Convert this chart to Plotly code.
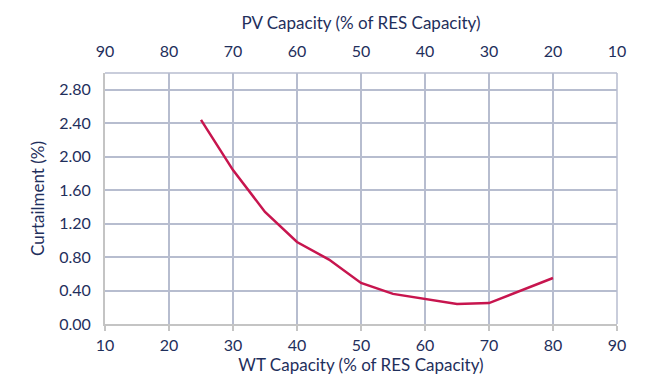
import plotly.graph_objects as go

wt_capacity = [25, 30, 35, 40, 45, 50, 55, 60, 65, 70, 75, 80]
curtailment = [2.44, 1.84, 1.34, 0.98, 0.77, 0.49, 0.36, 0.30, 0.24, 0.25, 0.40, 0.55]
pv_capacity = [100 - v for v in wt_capacity]
y_ticks = [0.0, 0.4, 0.8, 1.2, 1.6, 2.0, 2.4, 2.8]
x_ticks = [10, 20, 30, 40, 50, 60, 70, 80, 90]

navy = "#1F2F5C"
grid = "#B7BDCF"
axis_grey = "#C4C4C4"
line_col = "#C7154E"
font_fam = "Lato, 'Open Sans', sans-serif"

fig = go.Figure()
fig.add_trace(go.Scatter(x=wt_capacity, y=curtailment, mode="lines",
                         line=dict(color=line_col, width=2.5), xaxis="x", yaxis="y",
                         showlegend=False))
fig.add_trace(go.Scatter(x=pv_capacity, y=curtailment, mode="lines",
                         line=dict(color="rgba(0,0,0,0)", width=0), xaxis="x2", yaxis="y",
                         showlegend=False, hoverinfo="skip"))

fig.update_layout(
    width=653, height=378,
    margin=dict(l=97, r=44, t=65, b=62),
    paper_bgcolor="white", plot_bgcolor="white",
    font=dict(family=font_fam, color=navy, size=16),
    xaxis=dict(range=[10, 90], tickvals=x_ticks, showgrid=True, gridcolor=grid, gridwidth=1.5,
               showline=True, linecolor=axis_grey, linewidth=2, ticks="outside",
               tickcolor=axis_grey, ticklen=5, tickwidth=1.5, zeroline=False,
               ticklabelstandoff=1, automargin=False,
               title=dict(text="WT Capacity (% of RES Capacity)", font=dict(size=17), standoff=2),
               tickfont=dict(size=16)),
    xaxis2=dict(range=[90, 10], tickvals=x_ticks, overlaying="x", side="top", showgrid=False,
                showline=False, ticks="", zeroline=False, ticklabelstandoff=12, automargin=False,
                title=dict(text="PV Capacity (% of RES Capacity)", font=dict(size=17), standoff=6),
                tickfont=dict(size=16)),
    yaxis=dict(range=[0, 3.0], tickvals=y_ticks, tickformat=".2f", showgrid=True,
               gridcolor=grid, gridwidth=1.5, showline=True, linecolor=axis_grey, linewidth=2,
               zeroline=False, ticks="", ticklabelstandoff=9, automargin=False,
               title=dict(text="Curtailment (%)", font=dict(size=17), standoff=10),
               tickfont=dict(size=16)),
    shapes=[
        dict(type="line", xref="paper", yref="paper", x0=0, x1=1, y0=1, y1=1,
             line=dict(color=grid, width=1.5)),
        dict(type="line", xref="paper", yref="paper", x0=1, x1=1, y0=0, y1=1,
             line=dict(color=grid, width=1.5)),
    ],
)

fig.write_html("out.html")
